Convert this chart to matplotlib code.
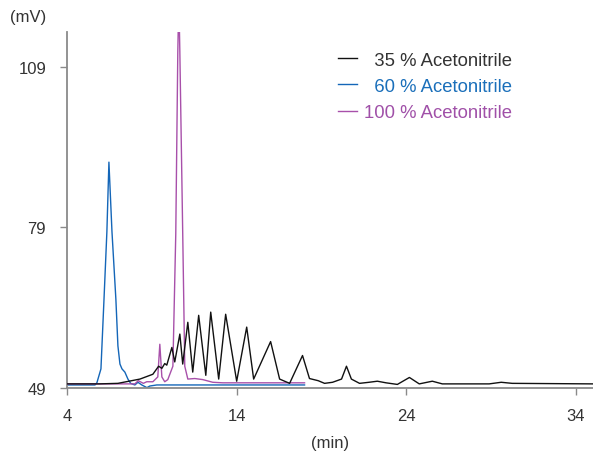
import matplotlib.pyplot as plt

plt.rcParams['font.family'] = ['Liberation Sans', 'DejaVu Sans']

# retention time (min) / signal (mV)
t_35 = [4.0, 5.9, 7.0, 8.3, 9.06, 9.4, 9.59, 9.76, 9.88, 10.18, 10.35, 10.65,
        10.82, 11.12, 11.41, 11.76, 12.18, 12.47, 12.94, 13.35, 14.0, 14.59,
        15.0, 16.0, 16.53, 17.12, 17.88, 18.29, 18.8, 19.18, 19.65, 20.18,
        20.47, 20.76, 21.24, 21.8, 22.29, 22.8, 23.47, 24.18, 24.76, 25.53,
        26.12, 28.88, 29.59, 30.24, 35.0]
mv_35 = [49.8, 49.8, 49.9, 50.7, 51.6, 53.1, 52.7, 53.6, 53.3, 56.6, 53.9, 59.1,
         53.5, 61.3, 52.0, 62.6, 51.4, 63.2, 50.7, 62.8, 50.3, 60.4,
         50.7, 57.7, 50.7, 49.9, 55.1, 50.8, 50.4, 49.9, 50.1, 50.7,
         53.1, 50.7, 49.9, 50.1, 50.3, 50.0, 49.7, 51.0, 49.8, 50.3,
         49.8, 49.8, 50.1, 49.9, 49.8]

t_60 = [4.0, 5.65, 5.76, 6.0, 6.18, 6.35, 6.47, 6.65, 6.88, 7.0, 7.12, 7.24,
        7.41, 7.59, 7.75, 8.0, 8.18, 8.41, 8.71, 8.88, 9.29, 18.0]
mv_60 = [49.6, 49.6, 50.0, 52.6, 65.6, 78.2, 91.2, 78.2, 65.6, 56.9, 53.5, 52.6,
         52.0, 50.7, 49.9, 49.6, 50.1, 49.6, 49.1, 49.4, 49.6, 49.6]

t_100 = [4.0, 8.0, 8.2, 8.5, 8.7, 9.06, 9.35, 9.47, 9.59, 9.76, 9.94, 10.24,
         10.41, 10.53, 10.59, 10.65, 10.82, 10.94, 11.12, 11.53, 12.0, 12.59,
         13.18, 18.0]
mv_100 = [49.8, 49.8, 50.4, 49.9, 50.2, 50.2, 51.1, 57.2, 51.1, 50.2, 50.6, 53.1,
          77.8, 111.8, 121.8, 111.8, 77.8, 53.1, 50.7, 50.8, 50.6, 50.1,
          50.0, 50.0]

labels = ['\u200735 % Acetonitrile', '\u200760 % Acetonitrile', '100 % Acetonitrile']
colors = ['#111111', '#1466b8', '#a850aa']
text_colors = ['#333333', '#1a6fba', '#a050a8']

fig = plt.figure(figsize=(5.93, 4.52), dpi=100)
ax = fig.add_axes([0.113, 0.139, 0.887, 0.788])

l2, = ax.plot(t_60, mv_60, color=colors[1], lw=1.0, label=labels[1], zorder=2)
l3, = ax.plot(t_100, mv_100, color=colors[2], lw=1.0, label=labels[2], zorder=3)
l1, = ax.plot(t_35, mv_35, color=colors[0], lw=1.0, label=labels[0], zorder=4)

ax.set_xlim(4, 35)
ax.set_ylim(49, 115.5)
ax.set_xticks([4, 14, 24, 34])
ax.set_yticks([49, 79, 109])

for s in ['top', 'right']:
    ax.spines[s].set_visible(False)
for s in ['left', 'bottom']:
    ax.spines[s].set_color('#8a8a8a')
    ax.spines[s].set_linewidth(1.3)
ax.tick_params(direction='out', length=5, width=1, color='#8a8a8a',
               labelsize=12, labelcolor='#333333', pad=10)
ax.tick_params(axis='x', pad=9)

ax.set_xlabel('(min)', fontsize=12, color='#333333', labelpad=9)
fig.text(0.017, 0.962, '(mV)', fontsize=12, color='#333333', va='center')

leg = ax.legend(handles=[l1, l2, l3], loc='upper left', bbox_to_anchor=(0.515, 0.945),
                frameon=False, fontsize=13.3, handlelength=1.03, handletextpad=0.38,
                labelspacing=0.5, borderpad=0, borderaxespad=0)
for txt, c in zip(leg.get_texts(), text_colors):
    txt.set_color(c)

fig.savefig('out.png', dpi=100)
